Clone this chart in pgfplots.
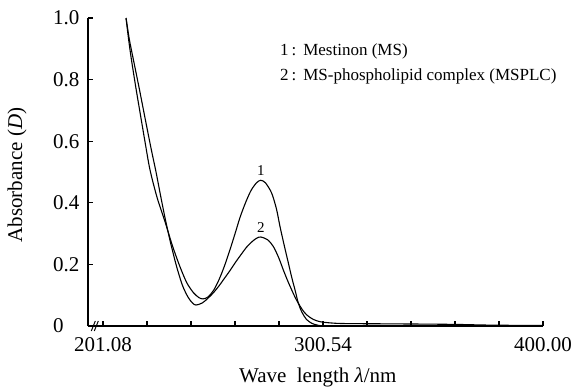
\documentclass[border=0pt]{standalone}
\usepackage{fontspec}
\setmainfont{Liberation Serif}
\usepackage{pgfplots}
\pgfplotsset{compat=1.18}
\begin{document}
\begin{tikzpicture}
\useasboundingbox (-88pt,-60pt) rectangle (487pt,326pt);
\begin{axis}[
 at={(0,0)}, anchor=south west,
 scale only axis, width=455pt, height=308pt,
 xmin=194.3, xmax=400, ymin=0, ymax=1,
 axis x line=bottom, axis y line=left,
 axis line style={-, line width=1.4pt},
 tick align=inside, major tick length=5pt,
 tick style={line width=1.2pt, black},
 xtick={201.08,220.972,240.864,260.756,280.648,300.54,320.432,340.324,360.216,380.108,400},
 xticklabels={201.08,,,,,300.54,,,,,400.00},
 ytick={0,0.2,0.4,0.6,0.8,1.0},
 yticklabels={0,0.2,0.4,0.6,0.8,1.0},
 /pgf/number format/assume math mode=true,
 ticklabel style={font=\fontsize{21}{25}\selectfont},
 xticklabel style={yshift=-8pt},
 yticklabel style={anchor=west, inner sep=0pt, xshift=-35pt},
 xlabel={Wave\ \ length \textit{λ}/nm},
 ylabel={Absorbance (\textit{D})},
 label style={font=\fontsize{21}{25}\selectfont},
 xlabel style={at={(axis description cs:0.505,-0.1656)}, anchor=center},
 ylabel style={at={(axis description cs:-0.156,0.49)}, anchor=center},
 clip=false,
]
\addplot[black, line width=1.1pt, smooth, tension=0.5] coordinates {
(211.5,1.00) (212.5,0.94) (213.7,0.876) (215.8,0.78) (217.9,0.69) (220.1,0.597)
(222.3,0.508) (225.5,0.418) (229.1,0.339) (232.5,0.26) (235.9,0.192) (239,0.14)
(242,0.108) (244.5,0.092) (246.3,0.088) (248.5,0.094) (251,0.115) (253.5,0.15)
(256,0.195) (258.5,0.248) (261,0.305) (263,0.352) (265.5,0.40) (268,0.44)
(270.5,0.465) (272.4,0.473) (274.5,0.465) (277.3,0.432) (279.5,0.38) (281.1,0.323)
(283,0.262) (284.9,0.204) (286.5,0.155) (287.9,0.117) (289.4,0.074) (291,0.045)
(293,0.022) (295.4,0.009) (298,0.003) (301,0.001) (320,0.001) (350,0.001) (380,0.001) (400,0.001)
};
\addplot[black, line width=1.1pt, smooth, tension=0.5] coordinates {
(211.5,1.00) (213,0.93) (214.5,0.876) (217.5,0.77) (220.5,0.66) (223,0.57)
(225,0.502) (227.2,0.42) (229.3,0.345) (231.8,0.265) (234.4,0.192) (237,0.132)
(239.5,0.094) (241.5,0.075) (243.1,0.068) (246,0.075) (248.5,0.09)
(251,0.108) (253.5,0.13) (256,0.155) (258.5,0.18) (261,0.207) (263.5,0.232)
(266,0.256) (268.5,0.274) (270.5,0.285) (272.4,0.289) (275.5,0.280) (278.1,0.258) (280.5,0.222)
(282.6,0.182) (284.5,0.148) (286.4,0.117) (288,0.092) (289.4,0.074) (291.2,0.053)
(293.2,0.036) (296,0.022) (299.2,0.014) (304,0.010) (310,0.008) (330,0.007)
(350,0.006) (362,0.005) (375,0.003) (390,0.002) (400,0.002)
};
\node[font=\fontsize{15}{18}\selectfont] at (axis cs:272.4,0.505) {1};
\node[font=\fontsize{15}{18}\selectfont] at (axis cs:272.4,0.319) {2};
\node[anchor=west, font=\fontsize{17}{20}\selectfont, inner sep=0pt] at (axis cs:281.1,0.893) {1\,:\ \,Mestinon (MS)};
\node[anchor=west, font=\fontsize{17}{20}\selectfont, inner sep=0pt] at (axis cs:281.1,0.811) {2\,:\ \,MS-phospholipid complex (MSPLC)};
\draw[line width=1pt] ([xshift=-4pt,yshift=-5pt]axis cs:197.6,0) -- ([xshift=0pt,yshift=5pt]axis cs:197.6,0);
\draw[line width=1pt] ([xshift=-1pt,yshift=-5pt]axis cs:197.6,0) -- ([xshift=3pt,yshift=5pt]axis cs:197.6,0);
\end{axis}
\end{tikzpicture}
\end{document}
